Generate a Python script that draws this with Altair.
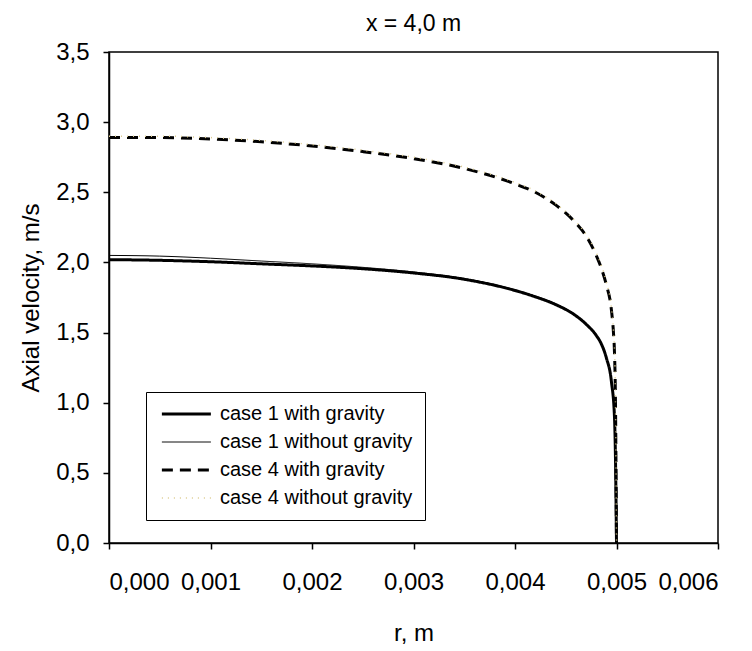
import altair as alt
import pandas as pd

# Radial coordinate (m) and axial velocity (m/s) for each case
series_names = [
    "case 1 with gravity",
    "case 1 without gravity",
    "case 4 with gravity",
    "case 4 without gravity",
]

r_c1g = [0.0, 0.0005, 0.001, 0.0015, 0.002, 0.0025, 0.003, 0.0035, 0.004,
         0.0042, 0.0044, 0.0046, 0.0047, 0.0048, 0.00485, 0.0049, 0.00495,
         0.00498, 0.00499, 0.005]
v_c1g = [2.02, 2.015, 2.005, 1.99, 1.975, 1.955, 1.925, 1.88, 1.80,
         1.755, 1.70, 1.62, 1.56, 1.48, 1.42, 1.32, 1.15,
         0.90, 0.60, 0.0]

r_c1n = [0.0, 0.0005, 0.001, 0.0015, 0.002, 0.0025, 0.003, 0.0035, 0.004,
         0.0042, 0.0044, 0.0046, 0.0047, 0.0048, 0.00485, 0.0049, 0.00495,
         0.00498, 0.00499, 0.005]
v_c1n = [2.05, 2.045, 2.03, 2.01, 1.99, 1.965, 1.932, 1.885, 1.805,
         1.76, 1.705, 1.625, 1.565, 1.485, 1.425, 1.325, 1.155,
         0.905, 0.60, 0.0]

r_c4g = [0.0, 0.0005, 0.001, 0.0015, 0.002, 0.0025, 0.003, 0.0035, 0.004,
         0.0042, 0.0044, 0.0046, 0.0047, 0.0048, 0.00485, 0.0049, 0.00495,
         0.00497, 0.00498, 0.00499, 0.005]
v_c4g = [2.89, 2.89, 2.88, 2.86, 2.83, 2.79, 2.74, 2.67, 2.56,
         2.50, 2.41, 2.28, 2.19, 2.05, 1.96, 1.84, 1.66,
         1.50, 1.36, 1.00, 0.0]

r_c4n = [0.0, 0.0005, 0.001, 0.0015, 0.002, 0.0025, 0.003, 0.0035, 0.004,
         0.0042, 0.0044, 0.0046, 0.0047, 0.0048, 0.00485, 0.0049, 0.00495,
         0.00497, 0.00498, 0.00499, 0.005]
v_c4n = [2.90, 2.90, 2.89, 2.87, 2.84, 2.80, 2.75, 2.68, 2.57,
         2.51, 2.42, 2.29, 2.20, 2.07, 1.98, 1.86, 1.68,
         1.52, 1.38, 1.02, 0.0]

frames = []
for name, rr, vv in zip(series_names,
                        [r_c1g, r_c1n, r_c4g, r_c4n],
                        [v_c1g, v_c1n, v_c4g, v_c4n]):
    frames.append(pd.DataFrame({"r": rr, "v": vv, "series": name}))
data = pd.concat(frames, ignore_index=True)

FONT = "Liberation Sans"

# long horizontal stroke used as the legend swatch, drawn to the right of
# the symbol origin so it stays inside the legend frame
LEGEND_SWATCH = "M-1,0H7"

lines = alt.Chart(data).mark_line(interpolate="monotone").encode(
    x=alt.X(
        "r:Q",
        scale=alt.Scale(domain=[0, 0.006], nice=False, zero=False),
        axis=alt.Axis(
            title="r, m",
            values=[0, 0.001, 0.002, 0.003, 0.004, 0.005, 0.006],
            labelExpr="replace(format(datum.value, '.3f'), '.', ',')",
            grid=False,
            tickSize=6,
            labelPadding=21,
            titlePadding=27,
        ),
    ),
    y=alt.Y(
        "v:Q",
        scale=alt.Scale(domain=[0, 3.5], nice=False),
        axis=alt.Axis(
            title="Axial velocity, m/s",
            values=[0, 0.5, 1, 1.5, 2, 2.5, 3, 3.5],
            labelExpr="replace(format(datum.value, '.1f'), '.', ',')",
            grid=False,
            tickSize=6,
            labelPadding=14,
            titlePadding=12,
        ),
    ),
    color=alt.Color(
        "series:N",
        scale=alt.Scale(domain=series_names,
                        range=["#000000", "#000000", "#000000", "#dccb8f"]),
        legend=alt.Legend(
            title=None,
            orient="none",
            legendX=37,
            legendY=340,
            symbolType=LEGEND_SWATCH,
            symbolSize=150,
            labelFontSize=20,
            labelFont=FONT,
            labelColor="#000000",
            labelOffset=42,
            rowPadding=8,
            padding=12,
            strokeColor="#000000",
            fillColor="#ffffff",
            labelLimit=400,
        ),
    ),
    strokeDash=alt.StrokeDash(
        "series:N",
        scale=alt.Scale(domain=series_names,
                        range=[[1, 0], [1, 0], [11, 7], [1, 5]]),
        legend=alt.Legend(title=None),
    ),
    strokeWidth=alt.StrokeWidth(
        "series:N",
        scale=alt.Scale(type="ordinal", domain=series_names,
                        range=[3, 1, 3, 1.5]),
        legend=alt.Legend(title=None),
    ),
)

chart = lines.properties(
    width=609,
    height=491,
    title=alt.TitleParams("x = 4,0 m", fontSize=23, font=FONT,
                          fontWeight="normal", color="#000000", offset=4),
    autosize=alt.AutoSizeParams(type="none"),
    padding={"left": 109, "top": 52, "right": 34, "bottom": 108},
    background="#ffffff",
).configure_view(
    stroke="#000000",
    strokeWidth=1.5,
).configure_axis(
    labelFont=FONT,
    titleFont=FONT,
    labelFontSize=24,
    titleFontSize=24,
    titleFontWeight="normal",
    labelColor="#000000",
    titleColor="#000000",
    domainColor="#000000",
    tickColor="#000000",
    domainWidth=1.5,
    tickWidth=1.5,
)

chart.save("out.html", embed_options={"renderer": "svg", "actions": False})
